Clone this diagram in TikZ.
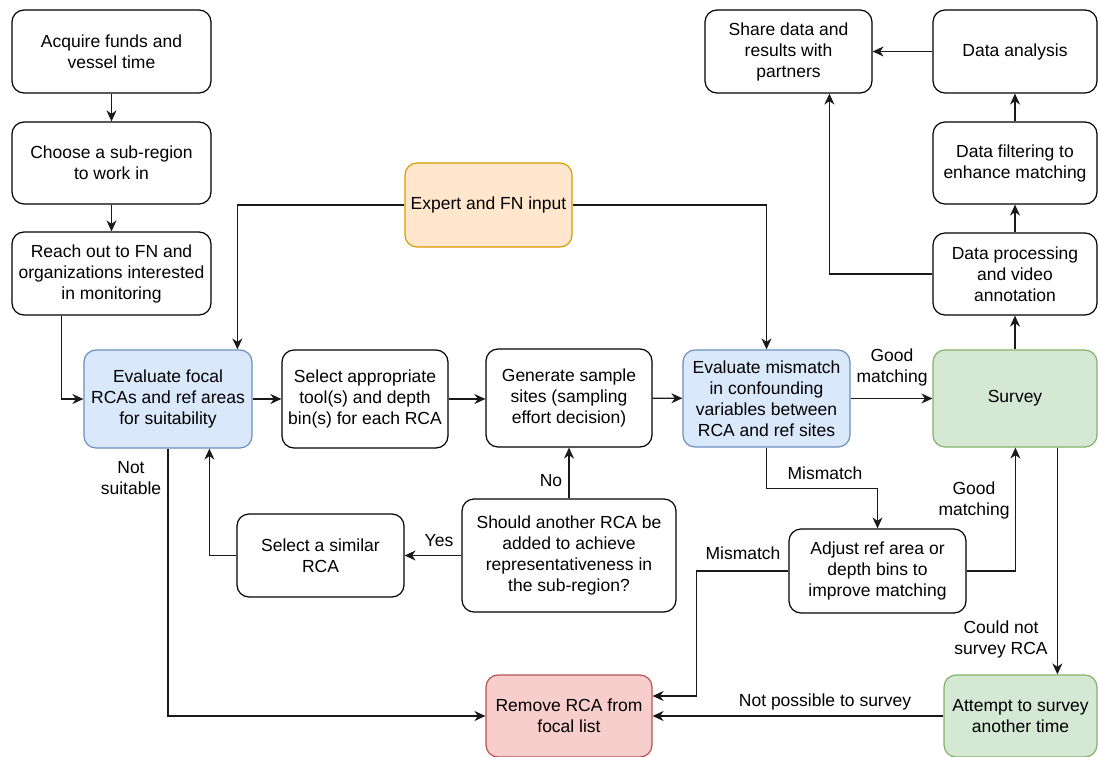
\documentclass[tikz,border=0pt]{standalone}
\usepackage{fontspec}
\setmainfont{Liberation Sans}
\usetikzlibrary{arrows.meta,calc}
\definecolor{bluef}{HTML}{DAE8FC}\definecolor{bluel}{HTML}{6C8EBF}
\definecolor{orf}{HTML}{FFE6CC}\definecolor{orl}{HTML}{D79B00}
\definecolor{grf}{HTML}{D5E8D4}\definecolor{grl}{HTML}{82B366}
\definecolor{rdf}{HTML}{F8CECC}\definecolor{rdl}{HTML}{B85450}
\begin{document}
\begin{tikzpicture}[x=1pt,y=-1pt,
  box/.style={draw=black,line width=1.2pt,rounded corners=12pt,fill=white,align=center,inner sep=2pt,
    font={\fontsize{17.5}{21}\selectfont}},
  bluebox/.style={box,draw=bluel,fill=bluef},
  orbox/.style={box,draw=orl,fill=orf},
  grbox/.style={box,draw=grl,fill=grf},
  rdbox/.style={box,draw=rdl,fill=rdf},
  arr/.style={draw=black!90,line width=1.3pt,-{Stealth[length=11pt,width=10pt,inset=3.5pt]}},
  lbl/.style={align=center,inner sep=0pt,font={\fontsize{17.5}{21}\selectfont}}]
\useasboundingbox (0,0) rectangle (1098,757);
% left column
\node[box,minimum width=199pt,minimum height=83pt] (A) at (111.5,51.5) {Acquire funds and\\vessel time};
\node[box,minimum width=199pt,minimum height=82pt] (B) at (111.5,163) {Choose a sub-region\\to work in};
\node[box,minimum width=199pt,minimum height=83pt] (C) at (111.5,273.5) {Reach out to FN and\\organizations interested\\in monitoring};
% middle row
\node[bluebox,minimum width=168pt,minimum height=98pt] (E1) at (168,399) {Evaluate focal\\RCAs and ref areas\\for suitability};
\node[box,minimum width=166pt,minimum height=98pt] (ST) at (365,399) {Select appropriate\\tool(s) and depth\\bin(s) for each RCA};
\node[box,minimum width=166pt,minimum height=98pt] (G) at (569,398) {Generate sample\\sites (sampling\\effort decision)};
\node[bluebox,minimum width=167pt,minimum height=97pt] (EM) at (766.5,398.5) {Evaluate mismatch\\in confounding\\variables between\\RCA and ref sites};
\node[grbox,minimum width=164pt,minimum height=97pt] (SV) at (1015,398.5) {Survey};
% expert
\node[orbox,minimum width=167pt,minimum height=84pt] (EX) at (488.5,205) {Expert and FN input};
% lower
\node[box,minimum width=167pt,minimum height=83pt] (SIM) at (320.5,555.5) {Select a similar\\RCA};
\node[box,minimum width=214pt,minimum height=113pt] (SH) at (569,555.5) {Should another RCA be\\added to achieve\\representativeness in\\the sub-region?};
\node[box,minimum width=177pt,minimum height=84pt] (ADJ) at (877.5,571) {Adjust ref area or\\depth bins to\\improve matching};
\node[rdbox,minimum width=166pt,minimum height=82pt] (R) at (569,716) {Remove RCA from\\focal list};
\node[grbox,minimum width=153pt,minimum height=82pt] (AT) at (1020.5,716) {Attempt to survey\\another time};
% right column
\node[box,minimum width=167pt,minimum height=83pt] (SHR) at (788.5,51.5) {Share data and\\results with\\partners};
\node[box,minimum width=164pt,minimum height=83pt] (DA) at (1015,51.5) {Data analysis};
\node[box,minimum width=164pt,minimum height=82pt] (DF) at (1015,163) {Data filtering to\\enhance matching};
\node[box,minimum width=164pt,minimum height=82pt] (DP) at (1015,274) {Data processing\\and video\\annotation};
% connectors
\draw[arr] (A) -- (B);
\draw[arr] (B) -- (C);
\draw[arr] ([xshift=50pt]C.south west) |- (E1.west);
\draw[arr] (E1) -- (ST);
\draw[arr] (ST.east) -- (G.west |- ST.east);
\draw[arr] (G) -- (EM);
\draw[arr] (EM) -- (SV);
\node[lbl] (gm1) at (892,367.5) {Good\\matching};
\draw[arr] (EX.west) -| ([xshift=154pt]E1.north west);
\draw[arr] (EX.east) -| (EM.north);
\draw[arr] (E1.south) |- (R.west);
\node[lbl] (ns) at (131,478.5) {Not\\suitable};
\draw[arr] (SIM.west) -| ([xshift=126pt]E1.south west);
\draw[arr] (SH.west) -- (SIM.east);
\node[lbl] (yes) at (439,541) {Yes};
\draw[arr] (SH.north) -- (G.south);
\node[lbl] (no) at (551,481) {No};
\draw[arr] (EM.south) -- ++(0,41) -| (ADJ.north);
\node[lbl] (mm1) at (825,473) {Mismatch};
\draw[arr] (ADJ.east) -| ([xshift=83pt]SV.south west);
\node[lbl] (gm2) at (974,500.5) {Good\\matching};
\draw[arr] (ADJ.west) -- ++(-92,0) |- ([yshift=20pt]R.east);
\node[lbl] (mm2) at (743,553) {Mismatch};
\coordinate (s1) at ([xshift=125pt]SV.south west);
\draw[arr] (s1) -- (s1 |- AT.north);
\node[lbl] (cn) at (1001,639) {Could not\\survey RCA};
\draw[arr] (AT.west) -- (R.east);
\node[lbl] (np) at (825,702) {Not possible to survey};
\draw[arr] (SV) -- (DP);
\draw[arr] (DP) -- (DF);
\draw[arr] (DF) -- (DA);
\draw[arr] (DA) -- (SHR);
\draw[arr] (DP.west) -| ([xshift=125pt]SHR.south west);
\end{tikzpicture}
\end{document}
